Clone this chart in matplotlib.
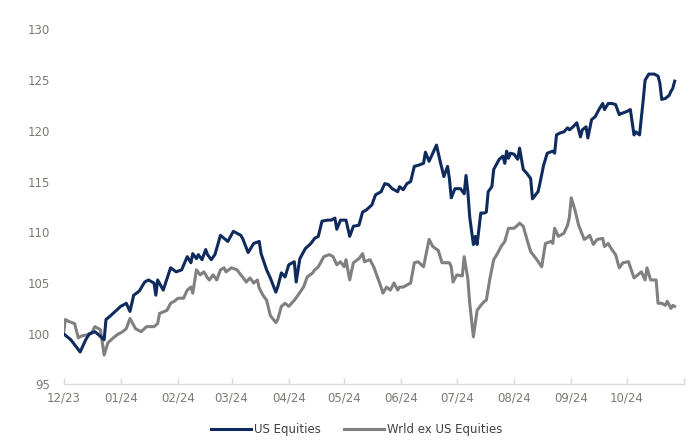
import matplotlib
matplotlib.use("Agg")
import matplotlib.pyplot as plt
import pandas as pd

# ---- data ----
start_date = "2023-12-29"
us_days = [0, 4, 9, 12, 14, 17, 19, 22, 23, 25, 28, 31, 34, 36, 38, 41, 44, 46, 49, 50,
           51, 54, 58, 61, 64, 67, 69, 70, 72, 73, 75, 77, 78, 80, 82, 85, 87, 89, 92, 94,
           96, 97, 100, 103, 106, 107, 110, 112, 115, 116, 118, 120, 122, 125, 126, 128, 131, 134, 136, 138,
           140, 143, 145, 147, 148, 150, 153, 155, 157, 160, 162, 164, 167, 169, 172, 174, 176, 178, 181, 182,
           184, 186, 188, 190, 192, 195, 196, 198, 200, 202, 204, 206, 208, 209, 210, 212, 215, 217, 218, 219,
           220, 222, 223, 224, 226, 228, 229, 230, 232, 233, 236, 238, 239, 240, 241, 242, 244, 246, 247, 249,
           251, 253, 254, 257, 258, 260, 262, 265, 266, 267, 269, 271, 273, 274, 276, 278, 280, 281, 283, 284,
           286, 288, 290, 292, 293, 295, 297, 299, 301, 302, 305, 307, 309, 310, 312, 314, 315, 317, 320, 322,
           323, 324, 326, 328, 329, 330, 331]
us_vals = [100.0, 99.4, 98.2, 99.4, 100.0, 100.2, 99.9, 99.4, 101.4, 101.7, 102.2, 102.7, 103.0, 102.2, 103.8, 104.2, 105.1, 105.3, 105.0, 103.8,
           105.3, 104.3, 106.5, 106.1, 106.3, 107.6, 107.0, 107.9, 107.4, 107.8, 107.3, 108.3, 107.8, 107.3, 107.8, 109.7, 109.4, 109.1, 110.1, 109.9,
           109.7, 109.4, 108.0, 108.9, 109.1, 107.9, 106.3, 105.5, 104.1, 104.6, 106.0, 105.6, 106.8, 107.1, 105.1, 107.4, 108.4, 108.9, 109.4, 109.6,
           111.1, 111.2, 111.2, 111.4, 110.3, 111.2, 111.2, 109.6, 110.6, 110.7, 112.0, 112.2, 112.7, 113.7, 114.0, 114.8, 114.7, 114.3, 114.0, 114.5,
           114.2, 114.8, 115.0, 116.5, 116.6, 116.8, 117.9, 117.0, 117.8, 118.6, 117.0, 115.5, 116.5, 115.3, 113.4, 114.3, 114.3, 113.8, 115.6, 114.0,
           111.5, 108.8, 109.6, 108.8, 111.9, 111.9, 112.0, 114.0, 114.5, 116.2, 117.2, 117.5, 116.8, 118.0, 117.3, 117.8, 117.7, 117.2, 118.3, 116.2,
           115.8, 115.3, 113.3, 114.0, 114.8, 116.6, 117.8, 118.0, 117.8, 119.6, 119.8, 119.9, 120.3, 120.1, 120.4, 120.8, 119.4, 120.1, 120.4, 119.3,
           121.1, 121.4, 122.1, 122.7, 122.1, 122.7, 122.7, 122.6, 121.6, 121.7, 121.9, 122.1, 119.6, 119.9, 119.6, 123.1, 125.0, 125.6, 125.6, 125.4,
           124.7, 123.1, 123.2, 123.5, 123.9, 124.2, 124.9]

wx_days = [0, 1, 3, 6, 8, 10, 13, 15, 17, 20, 22, 24, 27, 29, 32, 34, 36, 39, 42, 45,
           49, 51, 52, 56, 58, 60, 62, 65, 67, 69, 70, 72, 74, 76, 78, 79, 81, 83, 85, 87,
           88, 91, 94, 96, 97, 99, 101, 103, 105, 106, 108, 110, 112, 115, 116, 118, 120, 122, 125, 127,
           130, 132, 135, 136, 138, 141, 144, 146, 148, 150, 152, 153, 155, 157, 160, 162, 163, 166, 168, 170,
           172, 173, 175, 177, 179, 181, 182, 184, 188, 190, 192, 195, 198, 200, 203, 205, 207, 209, 210, 211,
           213, 216, 217, 219, 220, 222, 224, 226, 228, 229, 231, 233, 235, 237, 239, 241, 244, 246, 247, 249,
           251, 253, 256, 259, 261, 264, 265, 266, 268, 271, 273, 274, 275, 277, 279, 282, 283, 285, 287, 289,
           292, 293, 295, 297, 299, 301, 303, 306, 309, 311, 313, 315, 316, 318, 321, 322, 324, 326, 327, 329,
           330, 331]
wx_vals = [100.0, 101.4, 101.2, 101.0, 99.6, 99.8, 99.9, 100.0, 100.7, 100.4, 97.9, 99.1, 99.6, 99.9, 100.2, 100.5, 101.5, 100.5, 100.2, 100.7,
           100.7, 101.0, 102.0, 102.3, 103.0, 103.2, 103.5, 103.5, 104.3, 104.6, 104.0, 106.3, 105.8, 106.1, 105.5, 105.3, 105.8, 105.3, 106.3, 106.5,
           106.1, 106.5, 106.3, 105.8, 105.6, 105.1, 105.5, 105.0, 105.3, 104.5, 103.8, 103.3, 101.8, 101.1, 101.4, 102.7, 103.0, 102.7, 103.3, 103.8,
           104.6, 105.6, 106.0, 106.3, 106.6, 107.6, 107.8, 107.6, 106.8, 107.1, 106.6, 107.3, 105.3, 107.0, 107.4, 107.9, 107.1, 107.3, 106.6, 105.6,
           104.6, 104.0, 104.6, 104.3, 105.0, 104.3, 104.6, 104.6, 105.0, 107.0, 107.1, 106.6, 109.3, 108.6, 108.2, 107.0, 107.0, 107.0, 106.6, 105.1,
           105.8, 105.7, 107.6, 105.4, 103.0, 99.7, 102.3, 102.8, 103.2, 103.3, 105.5, 107.3, 107.9, 108.6, 109.1, 110.4, 110.4, 110.7, 110.9, 110.6,
           109.3, 108.1, 107.4, 106.6, 108.9, 109.1, 108.9, 110.4, 109.6, 109.9, 110.7, 111.5, 113.4, 112.2, 110.7, 109.3, 109.4, 109.7, 108.8, 109.3,
           109.4, 108.6, 108.9, 108.3, 107.8, 106.5, 107.0, 107.1, 105.5, 105.8, 106.1, 105.3, 106.5, 105.3, 105.3, 103.0, 103.0, 102.8, 103.2, 102.5,
           102.8, 102.7]

series_names = ["US Equities", "Wrld ex US Equities"]
tick_dates = ["2023-12-29", "2024-01-29", "2024-02-29", "2024-03-29", "2024-04-29", "2024-05-29",
              "2024-06-29", "2024-07-29", "2024-08-29", "2024-09-29", "2024-10-29", "2024-11-29"]
tick_labels = ["12/23", "01/24", "02/24", "03/24", "04/24", "05/24",
               "06/24", "07/24", "08/24", "09/24", "10/24", ""]
y_ticks = [95, 100, 105, 110, 115, 120, 125, 130]

# ---- plot ----
base = pd.Timestamp(start_date)
us_dates = base + pd.to_timedelta(us_days, unit="D")
wx_dates = base + pd.to_timedelta(wx_days, unit="D")

fig = plt.figure(figsize=(6.95, 4.46), dpi=100)
ax = fig.add_axes([0.0914, 0.138, 0.8926, 0.796])

navy = "#0f2b5e"
grey = "#808080"
ax.plot(us_dates, us_vals, color=navy, lw=2.2, solid_joinstyle="round", label=series_names[0], zorder=3)
ax.plot(wx_dates, wx_vals, color=grey, lw=2.2, solid_joinstyle="round", label=series_names[1], zorder=2)

ax.set_ylim(95, 130)
ax.set_xlim(pd.Timestamp(tick_dates[0]), pd.Timestamp(tick_dates[-1]))
ax.set_yticks(y_ticks)
ax.set_yticklabels([str(v) for v in y_ticks])
ax.set_xticks([pd.Timestamp(d) for d in tick_dates])
ax.set_xticklabels(tick_labels)

for s in ["top", "right", "left"]:
    ax.spines[s].set_visible(False)
ax.spines["bottom"].set_color("#d9d9d9")
ax.spines["bottom"].set_linewidth(1.0)

txt_color = "#7d7873"
ax.tick_params(axis="y", length=0, pad=10, labelsize=8.5, labelcolor=txt_color)
ax.tick_params(axis="x", direction="in", length=4, width=1, color="#d9d9d9",
               pad=5, labelsize=8.5, labelcolor=txt_color)
for lab in ax.get_xticklabels() + ax.get_yticklabels():
    lab.set_family("DejaVu Sans")

fig.legend(loc="center", bbox_to_anchor=(0.513, 0.037), ncol=2, frameon=False,
           handlelength=3.4, handletextpad=0.2, columnspacing=2.0,
           prop={"family": "DejaVu Sans", "size": 8.5}, labelcolor="#404040")

fig.savefig("out.png", dpi=100)
